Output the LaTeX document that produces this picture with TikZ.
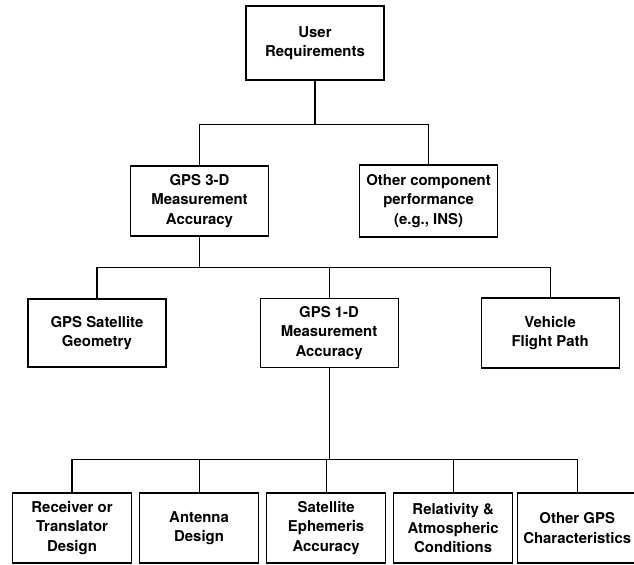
\documentclass[tikz,border=0pt]{standalone}
\usepackage{fontspec}
\setmainfont{TeX Gyre Heros}
\usepackage{tikz}
\usetikzlibrary{positioning}

\begin{document}
\begin{tikzpicture}[node distance=0.14cm]
        \tikzset{
            boxnode/.style={draw, rectangle, line width=0.6pt, inner sep=0pt, align=center, font=\fontsize{8.5}{11}\selectfont\bfseries, minimum width=2.76cm, minimum height=1.40cm},
            leafnode/.style={boxnode, minimum width=2.38cm},
            link/.style={line width=0.6pt}
        }
        \useasboundingbox (0,0) rectangle (12.68,-11.30);

        \node [boxnode, minimum height=1.48cm] (user) at (6.30,-0.86) {User\\Requirements};

        \node [boxnode] (gps3d) at (3.99,-4.02) {GPS 3-D\\Measurement\\Accuracy};
        \node [boxnode, minimum height=1.44cm, right=1.80cm of gps3d] (othercomp) {Other component\\performance\\(e.g., INS)};

        \node [boxnode, minimum height=1.36cm] (geometry) at (1.94,-6.66) {GPS Satellite\\Geometry};
        \node [boxnode, minimum height=1.38cm, right=1.86cm of geometry] (gps1d) {GPS 1-D\\Measurement\\Accuracy};
        \node [boxnode, right=1.64cm of gps1d] (flightpath) {Vehicle\\Flight Path};

        \node [leafnode] (receiver) at (1.44,-10.56) {Receiver or\\Translator\\Design};
        \node [leafnode, right=of receiver] (antenna) {Antenna\\Design};
        \node [leafnode, right=of antenna] (ephemeris) {Satellite\\Ephemeris\\Accuracy};
        \node [leafnode, right=of ephemeris] (relativity) {Relativity \&\\Atmospheric\\Conditions};
        \node [leafnode, right=0.08cm of relativity] (othergps) {Other GPS\\Characteristics};

        % top level
        \draw [link] (user.south) -- ++(0,-0.88) coordinate (bar1);
        \draw [link] (bar1) -| (gps3d.north);
        \draw [link] (bar1) -| (othercomp.north);

        % 3-D accuracy
        \draw [link] (gps3d.south) -- ++(0,-0.62) coordinate (bar2);
        \draw [link] (bar2) -| (geometry.north);
        \draw [link] (bar2) -| (gps1d.north);
        \draw [link] (bar2) -| (flightpath.north);

        % 1-D accuracy
        \draw [link] (gps1d.south) -- ++(0,-1.82) coordinate (bar3);
        \draw [link] (bar3) -| (receiver.north);
        \draw [link] (bar3) -| (antenna.north);
        \draw [link] (bar3) -| (ephemeris.north);
        \draw [link] (bar3) -| (relativity.north);
        \draw [link] (bar3) -| (othergps.north);
    \end{tikzpicture}
\end{document}
